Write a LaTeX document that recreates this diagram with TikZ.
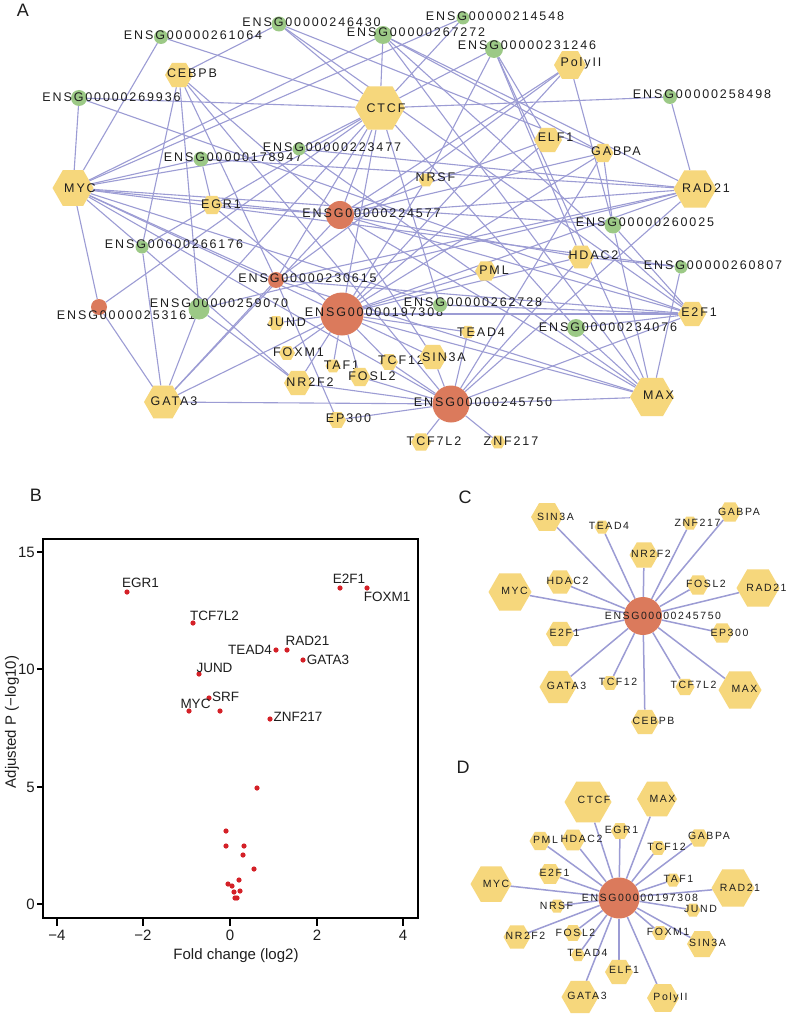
\documentclass[tikz,border=0pt]{standalone}
\usepackage{fontspec}
\setmainfont{Liberation Sans}
\newfontfamily\netfont[LetterSpace=15]{Liberation Sans}
\usetikzlibrary{shapes.geometric}
\pgfdeclarelayer{back}
\pgfdeclarelayer{bg}
\pgfsetlayers{back,bg,main}
\definecolor{hexfill}{HTML}{F6D77C}
\definecolor{grnfill}{HTML}{9CC986}
\definecolor{redfill}{HTML}{DB7A5C}
\definecolor{edgecol}{HTML}{9C9CD4}
\definecolor{dotcol}{HTML}{D42027}
\definecolor{txtcol}{HTML}{1E1E1E}
\tikzset{
  hexs/.style={regular polygon, regular polygon sides=6, fill=hexfill, draw=none, inner sep=0pt},
  circs/.style={circle, draw=none, inner sep=0pt},
  lab/.style={font=\netfont\fontsize{12.5pt}{14pt}\selectfont, text=txtcol, inner sep=0pt},
  edgeA/.style={draw=edgecol, line width=1.1pt},
  edgeC/.style={draw=edgecol, line width=1.5pt},
  panel/.style={font=\fontsize{18pt}{20pt}\selectfont, text=txtcol, inner sep=0pt},
  ticklab/.style={font=\fontsize{15pt}{17pt}\selectfont, text=txtcol, inner sep=0pt},
  ptlab/.style={font=\fontsize{13.5pt}{15pt}\selectfont, text=txtcol, inner sep=0pt},
  axlab/.style={font=\fontsize{15pt}{17pt}\selectfont, text=txtcol, inner sep=0pt},
}
\newcommand{\hx}[7]{\node[hexs, minimum size=#4pt] (#1) at (#2,#3) {}; \node[lab] (#1-l) at (#5,#6) {#7};}
\newcommand{\cn}[8]{\node[circs, fill=#5, minimum size=#4pt] (#1) at (#2,#3) {}; \node[lab] (#1-l) at (#6,#7) {#8};}
\begin{document}
\begin{tikzpicture}[x=1pt,y=-1pt]
\begin{pgfonlayer}{back}
\fill[white] (0,0) rectangle (787,1016);
\end{pgfonlayer}
\useasboundingbox (0,0) rectangle (787,1016);

% ---------------- Panel A ----------------
\node[panel] (pA) at (23,10) {A};
\cn{n261064}{161}{37}{14}{grnfill}{193}{35}{ENSG00000261064}
\cn{n246430}{279}{24}{15}{grnfill}{311.5}{22}{ENSG00000246430}
\cn{n267272}{383}{35}{18}{grnfill}{416}{32}{ENSG00000267272}
\cn{n214548}{463}{18}{13}{grnfill}{495}{16}{ENSG00000214548}
\cn{n231246}{494}{49}{18}{grnfill}{527}{45}{ENSG00000231246}
\cn{n269936}{79}{98}{16}{grnfill}{111.5}{97}{ENSG00000269936}
\cn{n258498}{670}{97}{14}{grnfill}{702}{94}{ENSG00000258498}
\cn{n178947}{201}{159}{15}{grnfill}{233}{157}{ENSG00000178947}
\cn{n223477}{299}{149}{13}{grnfill}{332}{147}{ENSG00000223477}
\cn{n224577}{340}{215}{28}{redfill}{371.5}{213}{ENSG00000224577}
\cn{n260025}{613}{225}{17}{grnfill}{645}{222}{ENSG00000260025}
\cn{n266176}{142}{247}{13}{grnfill}{174}{244}{ENSG00000266176}
\cn{n260807}{681}{267}{13}{grnfill}{713}{265}{ENSG00000260807}
\cn{n230615}{276}{280}{16}{redfill}{307.5}{278}{ENSG00000230615}
\cn{n253161}{99}{307}{16}{redfill}{126}{315}{ENSG00000253161}
\cn{n259070}{199}{309}{21}{grnfill}{219}{303}{ENSG00000259070}
\cn{n197308}{342}{314}{43}{redfill}{374}{312}{ENSG00000197308}
\cn{n262728}{440}{305}{14}{grnfill}{473}{302}{ENSG00000262728}
\cn{n234076}{576}{328}{18}{grnfill}{608}{327}{ENSG00000234076}
\cn{n245750}{451}{404}{37}{redfill}{483}{402}{ENSG00000245750}

\hx{CEBPB}{179}{75}{28}{192}{73}{CEBPB}
\hx{CTCF}{380}{108}{50}{386}{108}{CTCF}
\hx{PolyII}{570}{65}{32}{581}{63}{PolyII}
\hx{ELF1}{548}{140}{28}{555.5}{137}{ELF1}
\hx{GABPA}{603}{153}{21}{616}{151}{GABPA}
\hx{NRSF}{426}{180}{15}{435.5}{177}{NRSF}
\hx{MYC}{73}{188}{41}{80}{188}{MYC}
\hx{EGR1}{212}{205}{21}{221}{204}{EGR1}
\hx{RAD21}{695}{189}{43}{706}{188}{RAD21}
\hx{HDAC2}{581}{257}{26}{593.5}{255}{HDAC2}
\hx{PML}{486}{271}{22}{494}{270}{PML}
\hx{E2F1}{692}{314}{28}{699}{312}{E2F1}
\hx{JUND}{276}{323}{16}{286.5}{322}{JUND}
\hx{TEAD4}{468}{332}{14}{481}{332}{TEAD4}
\hx{FOXM1}{287}{353}{16}{298.5}{352}{FOXM1}
\hx{TCF12}{389}{362}{18}{401}{360}{TCF12}
\hx{SIN3A}{433}{357}{28}{444}{357}{SIN3A}
\hx{TAF1}{333}{366}{15}{341.5}{365}{TAF1}
\hx{FOSL2}{360}{377}{21}{372}{376}{FOSL2}
\hx{NR2F2}{298}{383}{28}{310}{382}{NR2F2}
\hx{MAX}{652}{397}{44}{658.5}{395}{MAX}
\hx{GATA3}{163}{402}{38}{174}{401}{GATA3}
\hx{EP300}{337}{420}{18}{348.5}{418}{EP300}
\hx{TCF7L2}{421}{442}{20}{434}{441}{TCF7L2}
\hx{ZNF217}{498}{442}{15}{511}{441}{ZNF217}

\begin{pgfonlayer}{bg}
\foreach \s/\ts in {
 n197308/{CTCF,MAX,EGR1,PML,HDAC2,GABPA,TCF12,E2F1,TAF1,RAD21,MYC,NRSF,JUND,NR2F2,FOSL2,FOXM1,SIN3A,TEAD4,ELF1,GATA3,PolyII},
 n245750/{SIN3A,TEAD4,ZNF217,GABPA,NR2F2,HDAC2,FOSL2,RAD21,MYC,E2F1,EP300,GATA3,TCF12,CEBPB,TCF7L2,MAX},
 n224577/{MYC,EGR1,CEBPB,CTCF,PolyII,ELF1,GABPA,RAD21,HDAC2,E2F1,MAX,SIN3A,GATA3},
 n230615/{MYC,CEBPB,CTCF,PolyII,RAD21,E2F1,MAX,EP300,GATA3},
 n253161/{MYC,GATA3,CTCF},
 n259070/{CEBPB,GATA3,NR2F2,RAD21,CTCF},
 n266176/{MYC,CEBPB,GATA3,NR2F2,CTCF},
 n178947/{MYC,EGR1,RAD21},
 n223477/{MYC,CTCF,MAX,RAD21},
 n269936/{MYC,CTCF,E2F1},
 n261064/{MYC,CTCF},
 n246430/{CEBPB,CTCF,GABPA,E2F1},
 n267272/{MYC,CTCF,GABPA,RAD21,MAX,E2F1},
 n214548/{CTCF,MYC},
 n231246/{CTCF,NRSF,ELF1,HDAC2,MAX},
 n258498/{CTCF,RAD21},
 n260025/{GABPA,E2F1,MAX,MYC,PolyII},
 n260807/{HDAC2,MAX,MYC},
 n262728/{E2F1,MYC,CTCF},
 n234076/{MAX,E2F1,CTCF}}
 {\foreach \t in \ts {\draw[edgeA] (\s) -- (\t);}}
\end{pgfonlayer}

% ---------------- Panel B ----------------
\node[panel] (pB) at (36,495) {B};
\draw[line width=2pt, draw=black] (43,539) rectangle (418,918);
\foreach \yy/\v [count=\i] in {552/15,669/10,787/5,904/0}{
  \coordinate (yt\i) at (43,\yy);
  \coordinate (yt\i e) at (37,\yy);
  \draw[line width=1.4pt] (yt\i) -- (yt\i e);
  \node[ticklab, anchor=east] (ytl\i) at (35,\yy) {\v};
}
\foreach \xx/\v [count=\i] in {57/−4,143/−2,230/0,317/2,403/4}{
  \coordinate (xt\i) at (\xx,918);
  \coordinate (xt\i e) at (\xx,926);
  \draw[line width=1.4pt] (xt\i) -- (xt\i e);
  \node[ticklab] (xtl\i) at (\xx,935) {\v};
}
\node[axlab] (xlab) at (236,956) {Fold change (log2)};
\node[axlab, rotate=90] (ylab) at (12,722) {Adjusted P (−log10)};
\foreach \px/\py [count=\i] in {127/592,340/588,367/588,193/623,276/650,287/650,303/660,199/674,209/698,189/711,220/711,270/719,
  257/788,226/831,226/846,244/846,243/855,254/869,239/880,228/884,232/886,234/892,240/891,235/898,237/898}{
  \node[circle, fill=dotcol, inner sep=0pt, minimum size=5.2pt] (dot\i) at (\px,\py) {};
}
\node[ptlab] (lEGR1) at (140.5,583) {EGR1};
\node[ptlab] (lE2F1) at (349,579) {E2F1};
\node[ptlab] (lFOXM1) at (387,597) {FOXM1};
\node[ptlab] (lTCF7L2) at (214.5,616) {TCF7L2};
\node[ptlab] (lTEAD4) at (250,650) {TEAD4};
\node[ptlab] (lRAD21) at (307.5,641) {RAD21};
\node[ptlab] (lGATA3) at (328,660) {GATA3};
\node[ptlab] (lJUND) at (214.5,668) {JUND};
\node[ptlab] (lSRF) at (225.5,697) {SRF};
\node[ptlab] (lMYC) at (195.5,704) {MYC};
\node[ptlab] (lZNF217) at (298,717) {ZNF217};

% ---------------- Panel C ----------------
\begin{scope}
\tikzset{lab/.style={font=\netfont\fontsize{10.5pt}{12pt}\selectfont, text=txtcol, inner sep=0pt}}
\node[panel] (pC) at (465,497) {C};
\cn{c245750}{643}{616}{38}{redfill}{663}{616}{ENSG00000245750}
\hx{cSIN3A}{547}{517}{32}{555.5}{517}{SIN3A}
\hx{cTEAD4}{602}{527}{15}{609}{526}{TEAD4}
\hx{cZNF217}{690}{523}{15}{697.5}{523}{ZNF217}
\hx{cGABPA}{730}{512}{22}{739}{512}{GABPA}
\hx{cNR2F2}{644}{555}{29}{651}{554}{NR2F2}
\hx{cHDAC2}{560}{582}{27}{567.5}{581}{HDAC2}
\hx{cFOSL2}{698}{585}{22}{706}{584}{FOSL2}
\hx{cMYC}{510}{592}{43}{514.5}{591}{MYC}
\hx{cRAD21}{758}{588}{43}{766.5}{588}{RAD21}
\hx{cE2F1}{560}{634}{28}{564.5}{633}{E2F1}
\hx{cEP300}{722}{633}{22}{729.5}{633}{EP300}
\hx{cGATA3}{558}{687}{37}{566.5}{686}{GATA3}
\hx{cTCF12}{610}{683}{16}{618}{682}{TCF12}
\hx{cTCF7L2}{685}{687}{19}{693.5}{685}{TCF7L2}
\hx{cMAX}{740}{690}{43}{744.5}{689}{MAX}
\hx{cCEBPB}{645}{722}{28}{653.5}{721}{CEBPB}
\begin{pgfonlayer}{bg}
\foreach \t in {cSIN3A,cTEAD4,cZNF217,cGABPA,cNR2F2,cHDAC2,cFOSL2,cMYC,cRAD21,cE2F1,cEP300,cGATA3,cTCF12,cTCF7L2,cMAX,cCEBPB}
  {\draw[edgeC] (c245750) -- (\t);}
\end{pgfonlayer}
\end{scope}

% ---------------- Panel D ----------------
\begin{scope}
\tikzset{lab/.style={font=\netfont\fontsize{10.5pt}{12pt}\selectfont, text=txtcol, inner sep=0pt}}
\node[panel] (pD) at (463,767) {D};
\cn{d197308}{619}{898}{41}{redfill}{640}{898}{ENSG00000197308}
\hx{dCTCF}{588}{802}{47}{594}{800}{CTCF}
\hx{dMAX}{657}{799}{40}{662.5}{799}{MAX}
\hx{dEGR1}{620}{831}{18}{621.5}{830}{EGR1}
\hx{dPML}{540}{841}{21}{545.5}{840}{PML}
\hx{dHDAC2}{573}{840}{24}{581.5}{839}{HDAC2}
\hx{dGABPA}{699}{838}{20}{709}{836}{GABPA}
\hx{dTCF12}{658}{848}{16}{666.5}{847}{TCF12}
\hx{dE2F1}{550}{874}{23}{554.5}{873}{E2F1}
\hx{dTAF1}{673}{880}{15}{678.5}{879}{TAF1}
\hx{dMYC}{491}{884}{41}{496}{884}{MYC}
\hx{dRAD21}{733}{888}{43}{740}{888}{RAD21}
\hx{dNRSF}{557}{906}{15}{556.5}{906}{NRSF}
\hx{dJUND}{693}{910}{15}{700.5}{909}{JUND}
\hx{dNR2F2}{517}{937}{27}{525.5}{936}{NR2F2}
\hx{dFOSL2}{573}{933}{18}{575.5}{933}{FOSL2}
\hx{dFOXM1}{660}{933}{16}{668}{932}{FOXM1}
\hx{dSIN3A}{702}{944}{30}{707.5}{943}{SIN3A}
\hx{dTEAD4}{578}{955}{14}{587.5}{953}{TEAD4}
\hx{dELF1}{619}{972}{28}{624}{970}{ELF1}
\hx{dGATA3}{580}{997}{37}{587}{996}{GATA3}
\hx{dPolyII}{663}{998}{32}{670.5}{998}{PolyII}
\begin{pgfonlayer}{bg}
\foreach \t in {dCTCF,dMAX,dEGR1,dPML,dHDAC2,dGABPA,dTCF12,dE2F1,dTAF1,dMYC,dRAD21,dNRSF,dJUND,dNR2F2,dFOSL2,dFOXM1,dSIN3A,dTEAD4,dELF1,dGATA3,dPolyII}
  {\draw[edgeC] (d197308) -- (\t);}
\end{pgfonlayer}
\end{scope}
\end{tikzpicture}
\end{document}
